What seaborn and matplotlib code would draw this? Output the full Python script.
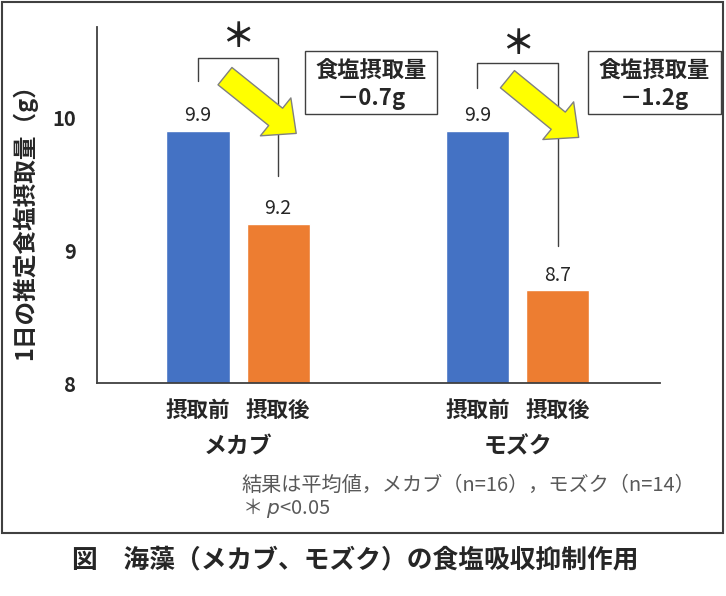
import seaborn as sns
import matplotlib.pyplot as plt
from matplotlib.patches import Rectangle, FancyArrowPatch
from matplotlib.transforms import blended_transform_factory
import pandas as pd

# values
groups = ['メカブ', 'モズク']
timings = ['摂取前', '摂取後']
before = [9.9, 9.9]
after = [9.2, 8.7]
diff_labels = ['－0.7g', '－1.2g']
colors = ['#4472C4', '#ED7D31']

df = pd.DataFrame({
    'group': groups * 2,
    'timing': [timings[0]] * len(groups) + [timings[1]] * len(groups),
    'value': before + after,
})

sns.set_theme(style='white')
plt.rcParams['font.family'] = ['Noto Sans CJK JP', 'DejaVu Sans']

fig = plt.figure(figsize=(7.26, 5.96), dpi=100)
ax = fig.add_axes([97 / 726, 1 - 383 / 596, (660 - 97) / 726, (383 - 27) / 596])

sns.barplot(data=df, x='group', y='value', hue='timing', hue_order=timings,
            palette=colors, width=0.573, gap=0.21, saturation=1,
            legend=False, ax=ax)

ax.set_ylim(8, 10.68)
ax.set_xlim(-0.505, 1.51)
sns.despine(ax=ax)
for side in ['left', 'bottom']:
    ax.spines[side].set_color('#404040')
    ax.spines[side].set_linewidth(1.3)

ax.set_yticks([8, 9, 10])
ax.set_yticklabels(['8', '9', '10'], fontsize=14.5, fontweight='bold')
ax.tick_params(axis='y', length=0, pad=15)

# bar centres
cb = [p.get_x() + p.get_width() / 2 for p in ax.containers[0]]
ca = [p.get_x() + p.get_width() / 2 for p in ax.containers[1]]

ticks = []
labels = []
for b, a in zip(cb, ca):
    ticks += [b, a]
    labels += timings
ax.set_xticks(ticks)
ax.set_xticklabels(labels, fontsize=15.5, fontweight='bold')
ax.tick_params(axis='x', length=0, pad=12)
ax.set_xlabel('')

trans = blended_transform_factory(ax.transData, ax.transAxes)
for i, g in enumerate(groups):
    ax.text(i, -0.18, g, transform=trans, ha='center', va='center',
            fontsize=16.5, fontweight='bold')

for cont in ax.containers:
    ax.bar_label(cont, fmt='%.1f', padding=3, fontsize=14)

ax.set_ylabel('1日の推定食塩摂取量（g）', fontsize=17, fontweight='bold')
ax.yaxis.set_label_coords(-0.107, 0.47)

# significance brackets
br_top = [10.45, 10.41]
br_left = [10.27, 10.22]
br_right = [9.555, 9.03]
star_y = [10.60, 10.55]
for i in range(len(groups)):
    ax.plot([cb[i], cb[i], ca[i], ca[i]],
            [br_left[i], br_top[i], br_top[i], br_right[i]],
            color='#404040', lw=1, zorder=3, clip_on=False)
    ax.text((cb[i] + ca[i]) / 2, star_y[i], '＊', ha='center', va='center',
            fontsize=24, fontweight='bold', color='#222222')

# yellow arrows
arrows = [((-0.047, 10.31), (0.208, 9.879)), ((0.964, 10.287), (1.219, 9.849))]
for tail, tip in arrows:
    arr = FancyArrowPatch(tail, tip,
                          arrowstyle='simple,head_length=19,head_width=35,tail_width=16',
                          shrinkA=0, shrinkB=0, fc='#FFFF00', ec='#808080',
                          lw=1, zorder=4, clip_on=False)
    ax.add_patch(arr)

# boxes with the reduction
box_x = [0.240, 1.254]
for i in range(len(groups)):
    ax.add_patch(Rectangle((box_x[i], 10.023), 0.473, 0.475, fill=False,
                           ec='#404040', lw=1, clip_on=False, zorder=5))
    cx = box_x[i] + 0.473 / 2
    ax.text(cx, 10.35, '食塩摂取量', ha='center', va='center',
            fontsize=16, fontweight='bold')
    ax.text(cx, 10.14, diff_labels[i], ha='center', va='center',
            fontsize=16, fontweight='bold')

# notes and caption
fig.text(242 / 726, 1 - 485 / 596, '結果は平均値，メカブ（n=16），モズク（n=14）',
         fontsize=14.5, color='#595959', va='center')
fig.text(242 / 726, 1 - 508 / 596, '＊ $\\it{p}$<0.05',
         fontsize=14.5, color='#595959', va='center')
fig.text(355 / 726, 1 - 560 / 596, '図　海藻（メカブ、モズク）の食塩吸収抑制作用',
         fontsize=18.5, fontweight='bold', ha='center', va='center')

fig.add_artist(Rectangle((1.5 / 726, 1 - 533 / 596), 721.5 / 726, 531 / 596,
                         transform=fig.transFigure, fill=False,
                         ec='#404040', lw=1.5))

fig.savefig('out.png', dpi=100)
